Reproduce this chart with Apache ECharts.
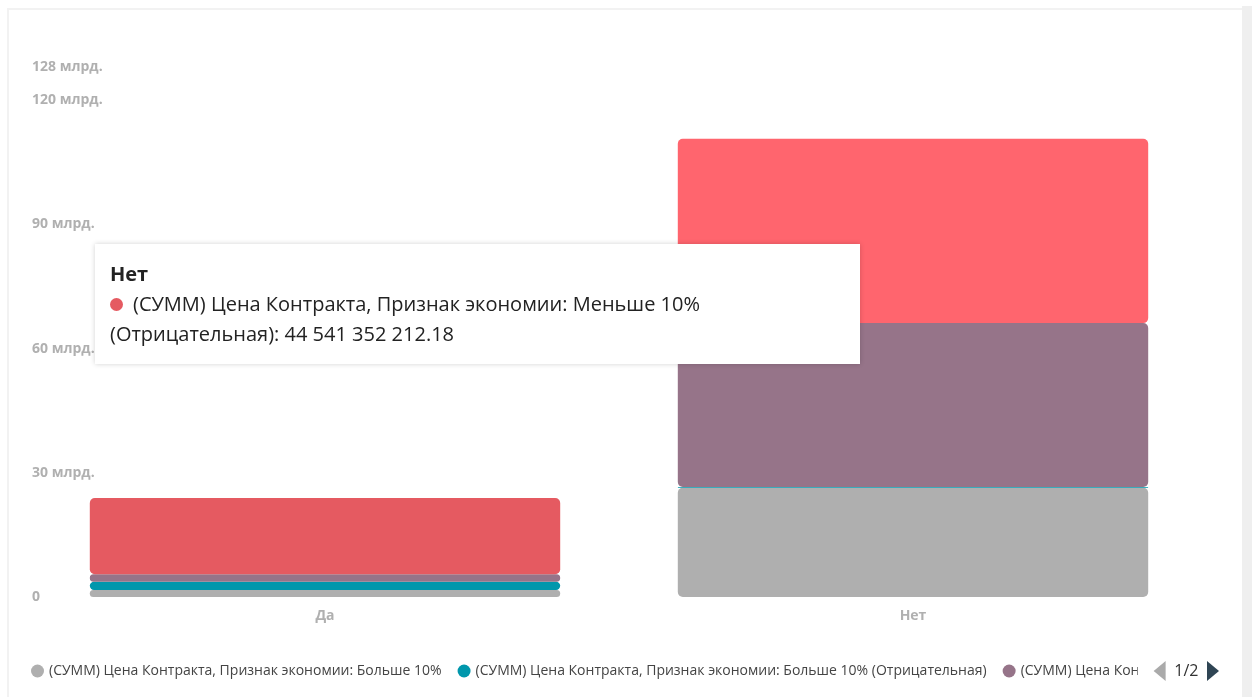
<!DOCTYPE html>
<html>
<head>
<meta charset="utf-8">
<script src="https://cdn.jsdelivr.net/npm/echarts@6/dist/echarts.min.js"></script>
<style>
  html, body { margin: 0; padding: 0; background: #fff; width: 1252px; height: 697px; overflow: hidden; }
  #frame { position: absolute; left: 7px; top: 8px; width: 1235px; height: 700px; border-left: 2px solid #f2f2f2; border-top: 2px solid #f2f2f2; box-sizing: border-box; }
  #strip { position: absolute; left: 1242px; top: 6px; width: 10px; height: 697px; background: #efefef; }
  #chart { position: absolute; left: 0; top: 0; width: 1252px; height: 697px; }
</style>
</head>
<body>
<div id="frame"></div>
<div id="strip"></div>
<div id="chart"></div>
<script>
const categories = ['Да', 'Нет'];
const seriesNames = [
  '(СУММ) Цена Контракта, Признак экономии: Больше 10%',
  '(СУММ) Цена Контракта, Признак экономии: Больше 10% (Отрицательная)',
  '(СУММ) Цена Контракта, Признак экономии: Меньше 10%',
  '(СУММ) Цена Контракта, Признак экономии: Меньше 10% (Отрицательная)'
];
const moreThan10 = [1.7e9, 26.4e9];
const moreThan10Neg = [2.0e9, 0.15e9];
const lessThan10 = [1.8e9, 39.6e9];
const lessThan10Neg = [18.4e9, 44541352212.18];
const yMax = 128e9;
const yInterval = 30e9;

const seriesValues = [moreThan10, moreThan10Neg, lessThan10, lessThan10Neg];
const colors = ['#AFAFAF', '#0097AC', '#967489', '#E55A61'];

function fmtNum(v) {
  const parts = v.toFixed(2).split('.');
  return parts[0].replace(/\B(?=(\d{3})+(?!\d))/g, ' ') + '.' + parts[1];
}

const chart = echarts.init(document.getElementById('chart'), null, { renderer: 'canvas' });
const font = '"Open Sans", "DejaVu Sans", sans-serif';

const option = {
  animation: false,
  backgroundColor: 'transparent',
  textStyle: { fontFamily: font },
  grid: { left: 31, right: 45, top: 67, bottom: 100, containLabel: false, outerBoundsMode: 'none' },
  xAxis: {
    type: 'category',
    data: categories,
    axisLine: { show: false },
    axisTick: { show: false },
    axisLabel: { color: '#B0B0B0', fontWeight: 'bold', fontSize: 14, margin: 12, fontFamily: font }
  },
  yAxis: {
    type: 'value',
    min: 0,
    max: yMax,
    interval: yInterval,
    axisLine: { show: false },
    axisTick: { show: false },
    splitLine: { show: false },
    axisLabel: {
      inside: true,
      margin: 1,
      color: '#B0B0B0',
      fontWeight: 'bold',
      fontSize: 14,
      fontFamily: font,
      formatter: function (v) { return v === 0 ? '0' : Math.round(v / 1e9) + ' млрд.'; }
    },
    z: 10
  },
  legend: {
    type: 'scroll',
    orient: 'horizontal',
    left: 26,
    width: 1188,
    top: 656,
    icon: 'circle',
    itemWidth: 13,
    itemHeight: 13,
    itemGap: 16,
    textStyle: { color: '#444', fontSize: 14, fontFamily: font },
    pageIconColor: '#2F4554',
    pageIconInactiveColor: '#AAAAAA',
    pageIconSize: [13, 20],
    pageTextStyle: { color: '#333', fontSize: 16, fontFamily: font },
    pageButtonItemGap: 1,
    data: seriesNames
  },
  tooltip: {
    trigger: 'item',
    alwaysShowContent: true,
    position: [95, 244],
    backgroundColor: '#fff',
    borderWidth: 0,
    padding: 15,
    extraCssText: 'box-shadow: 0 0 5px rgba(0,0,0,0.18); border-radius: 0;',
    formatter: function (p) {
      return '<div style="width:735px;font-family:' + font.replace(/"/g, "'") + ';font-size:20px;line-height:30px;color:#222;white-space:normal;">' +
        '<div style="font-weight:bold;">' + p.name + '</div>' +
        '<div><span style="display:inline-block;width:13px;height:13px;border-radius:50%;background:' + p.color + ';margin-right:10px;vertical-align:0px;"></span>' +
        p.seriesName.replace(' (Отрицательная)', '') + '<br>(Отрицательная): ' + fmtNum(p.value) + '</div></div>';
    }
  },
  series: seriesNames.map(function (name, i) {
    return {
      name: name,
      type: 'bar',
      stack: 'total',
      barWidth: '80%',
      data: seriesValues[i],
      itemStyle: { color: colors[i], borderRadius: 5 },
      emphasis: i === 3 ? { itemStyle: { color: '#FF656E' } } : { disabled: true }
    };
  })
};

chart.setOption(option);
chart.dispatchAction({ type: 'highlight', seriesIndex: 3, dataIndex: 1 });
chart.dispatchAction({ type: 'showTip', seriesIndex: 3, dataIndex: 1 });
</script>
</body>
</html>
